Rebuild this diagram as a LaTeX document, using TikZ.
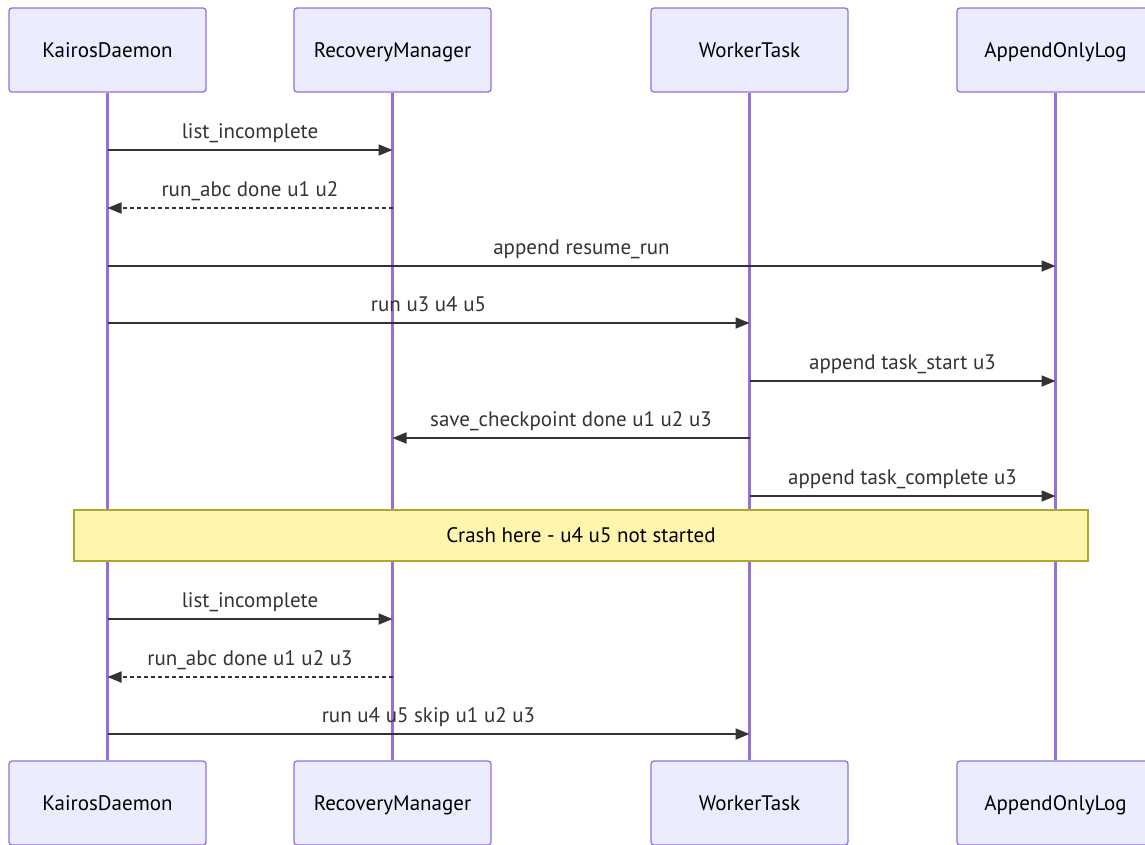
\documentclass[tikz,border=0pt]{standalone}
\usepackage{fontspec}
\setmainfont{PT Sans}
\usetikzlibrary{arrows.meta}
\definecolor{actorfill}{HTML}{ECECFF}
\definecolor{actorline}{HTML}{9370DB}
\definecolor{msgline}{HTML}{333333}
\definecolor{notefill}{HTML}{FFF5AD}
\definecolor{noteline}{HTML}{AAAA33}
\begin{document}
\begin{tikzpicture}[x=1pt,y=-1pt,
  actor/.style={draw=actorline, fill=actorfill, line width=1.3pt, rounded corners=3pt,
    minimum width=197pt, minimum height=84pt, text height=17pt, text depth=3pt,
    font=\fontsize{21}{24}\selectfont},
  life/.style={actorline, line width=2.4pt},
  msg/.style={msgline, line width=1.8pt, -{Triangle[length=14pt,width=11pt]}},
  reply/.style={msg, dash pattern=on 3.5pt off 3.5pt},
  lbl/.style={anchor=base, yshift=12pt, text=msgline, font=\fontsize{21}{24}\selectfont},
  note/.style={draw=noteline, fill=notefill, line width=1.3pt, minimum width=1014pt,
    minimum height=51pt, font=\fontsize{21}{24}\selectfont}]
\useasboundingbox (0,0) rectangle (1145,844);

% Participants and lifelines
\foreach \n/\x/\t in {kd/107.5/KairosDaemon, rm/392.5/RecoveryManager,
                      wt/749.5/WorkerTask, log/1055.5/AppendOnlyLog}{
  \node[actor] (\n-top) at (\x,50) {\t};
  \node[actor] (\n-bot) at (\x,803) {\t};
  \draw[life] (\n-top) -- (\n-bot);
}

% Messages before the crash
\foreach \a/\b/\y/\s/\t in {kd/rm/150/msg/list\_incomplete,
                            rm/kd/208/reply/run\_abc done u1 u2,
                            kd/log/266/msg/append resume\_run,
                            kd/wt/323/msg/run u3 u4 u5,
                            wt/log/381/msg/append task\_start u3,
                            wt/rm/438/msg/save\_checkpoint done u1 u2 u3,
                            wt/log/496/msg/append task\_complete u3}{
  \draw[style=\s] (\a-top |- 0,\y) -- (\b-top |- 0,\y) node[midway, lbl] {\t};
}

% Crash note
\node[note] (crash) at (581,535.5) {Crash here - u4 u5 not started};

% Messages after restart
\foreach \a/\b/\y/\s/\t in {kd/rm/619/msg/list\_incomplete,
                            rm/kd/677/reply/run\_abc done u1 u2 u3,
                            kd/wt/734/msg/run u4 u5 skip u1 u2 u3}{
  \draw[style=\s] (\a-top |- 0,\y) -- (\b-top |- 0,\y) node[midway, lbl] {\t};
}
\end{tikzpicture}
\end{document}
